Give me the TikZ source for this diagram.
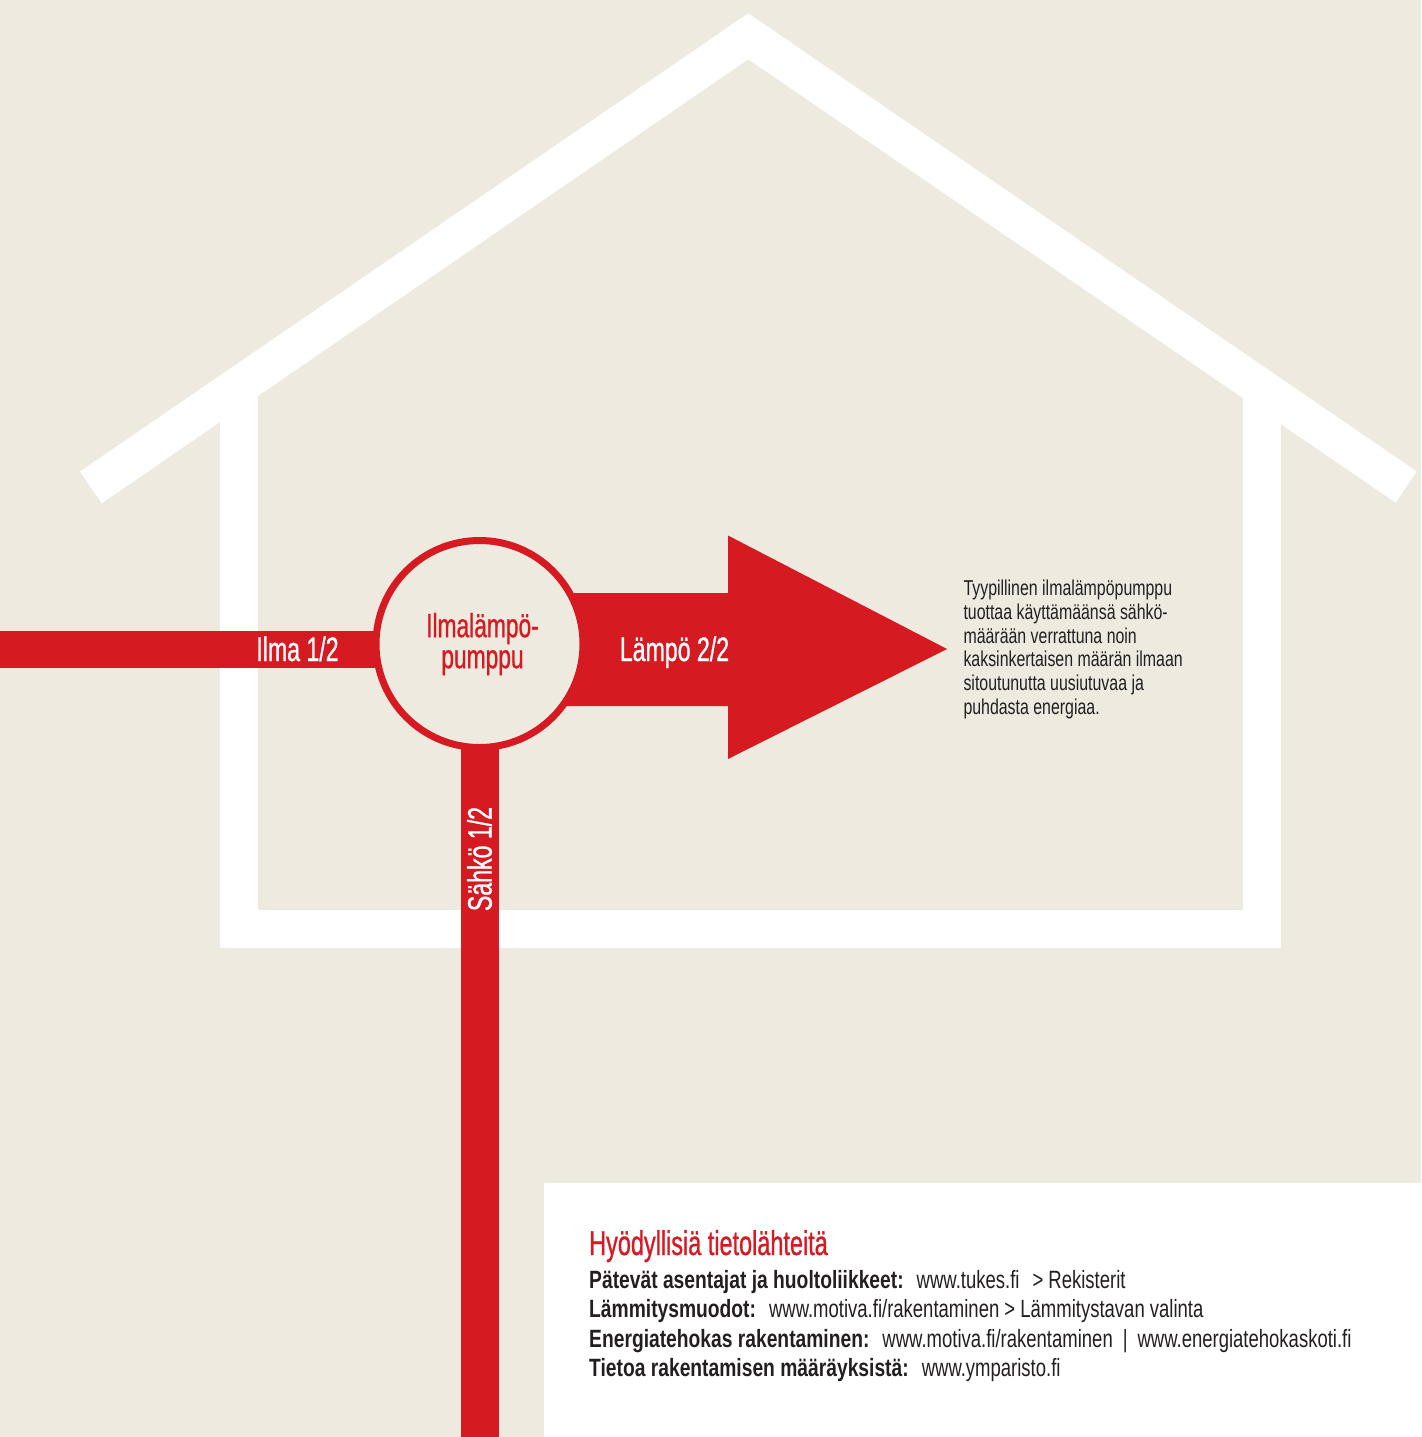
\documentclass[tikz,border=0pt]{standalone}
\usepackage{fontspec}
\setmainfont{Liberation Sans}[FakeStretch=0.74]
\newfontfamily\labelcond{Liberation Sans}[FakeStretch=0.68, FakeBold=0.8]
\newfontfamily\boldcond{Liberation Sans}[FakeStretch=0.77]
\definecolor{bgc}{RGB}{238,234,224}
\definecolor{hred}{RGB}{214,26,34}
\definecolor{darkc}{RGB}{35,31,32}
\tikzset{
  bar/.style={draw=hred, line width=37pt},
  barlabel/.style={text=white, inner sep=0pt, font=\labelcond\fontsize{34}{30}\selectfont},
  desc/.style={text=darkc, inner sep=0pt, align=left, font=\fontsize{21.5}{23.8}\selectfont},
  srcline/.style={text=darkc, inner sep=0pt, anchor=base west, font=\fontsize{25}{29.5}\selectfont},
}
\newcommand\lbl[1]{{\boldcond\bfseries #1}}
\begin{document}
\begin{tikzpicture}[x=1pt,y=-1pt]
\useasboundingbox (0,0) rectangle (1421,1437);
\fill[bgc] (0,0) rectangle (1421,1437);
% info box
\fill[white] (543.5,1183) rectangle (1421,1437);
% house
\fill[white] (80,471.5) -- (748.3,13.3) -- (1416.7,471.5) -- (1395.7,502.7) -- (748.3,59.3) -- (101.7,503.3) -- cycle;
\fill[white] (220,390) rectangle (257.7,947.7);
\fill[white] (1242.7,390) rectangle (1280.7,947.7);
\fill[white] (220,910) rectangle (1280.7,947.7);
% heat pump
\coordinate (hpc) at (479.5,644);
\coordinate (airin) at (0,649.4);
\coordinate (elin) at (480,1437);
\draw[bar] (airin) -- (airin -| hpc);
\draw[bar, line width=38pt] (hpc -| elin) -- (elin);
% big arrow
\fill[hred] (560,593) -- (728,593) -- (728,535.5) -- (947,649) -- (728,759) -- (728,706) -- (560,706) -- cycle;
\node[circle, minimum size=207pt, inner sep=0pt, draw=hred, line width=7pt, fill=bgc,
      text=hred, align=center, font=\labelcond\fontsize{33.5}{31}\selectfont] (hp) at (hpc) {\hspace*{6pt}Ilmalämpö-\\\hspace*{6pt}pumppu};
% labels
\node[barlabel, anchor=base] (ilma) at (297.5,661) {Ilma 1/2};
\node[barlabel, anchor=base] (lampo) at (674.5,661) {Lämpö 2/2};
\node[barlabel, rotate=90, anchor=center] (sahko) at (479.5,859) {Sähkö 1/2};
% description
\node[desc, anchor=north west] (desc) at (963.3,579.8) {Tyypillinen ilmalämpöpumppu\\tuottaa käyttämäänsä sähkö-\\määrään verrattuna noin\\kaksinkertaisen määrän ilmaan\\sitoutunutta uusiutuvaa ja\\puhdasta energiaa.};
% sources
\node[text=hred, inner sep=0pt, anchor=base west, font=\labelcond\fontsize{34.5}{34}\selectfont] (title) at (589,1255) {Hyödyllisiä tietolähteitä};
\node[srcline] (s1) at (589,1288) {\lbl{Pätevät asentajat ja huoltoliikkeet:}\hspace{13pt}www.tukes.fi\hspace{13pt}> Rekisterit};
\node[srcline] (s2) at (589,1317.5) {\lbl{Lämmitysmuodot:}\hspace{13pt}www.motiva.fi/rakentaminen > Lämmitystavan valinta};
\node[srcline] (s3) at (589,1347) {\lbl{Energiatehokas rakentaminen:}\hspace{13pt}www.motiva.fi/rakentaminen\hspace{10pt}|\hspace{10pt}www.energiatehokaskoti.fi};
\node[srcline] (s4) at (589,1376.5) {\lbl{Tietoa rakentamisen määräyksistä:}\hspace{13pt}www.ymparisto.fi};
\end{tikzpicture}
\end{document}
